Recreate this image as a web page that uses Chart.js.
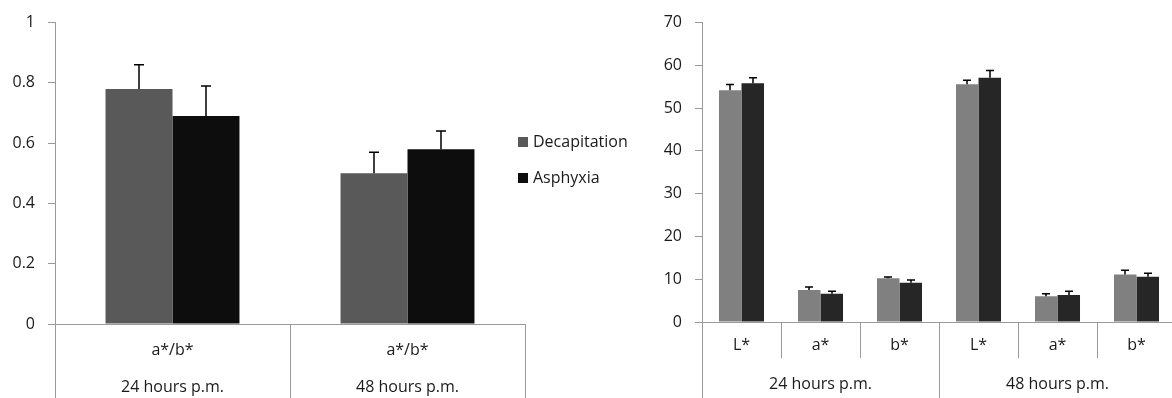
<!DOCTYPE html>
<html>
<head>
<meta charset="utf-8">
<script src="https://cdn.jsdelivr.net/npm/chart.js@4/dist/chart.umd.min.js"></script>
<style>
  html, body { margin: 0; padding: 0; background: #fff; overflow: hidden; }
  #wrap { position: relative; width: 1172px; height: 398px; overflow: hidden; }
  #left { position: absolute; left: 0; top: 0; }
  #right { position: absolute; left: 650px; top: 0; }
</style>
</head>
<body>
<div id="wrap">
  <canvas id="left" width="650" height="398"></canvas>
  <canvas id="right" width="526" height="398"></canvas>
</div>
<script>
// left chart: a*/b* ratio
const leftCategories = ["a*/b*", "a*/b*"];
const leftGroups = ["24 hours p.m.", "48 hours p.m."];
const leftDecap = [0.78, 0.50];
const leftDecapErr = [0.08, 0.07];
const leftAsph = [0.69, 0.58];
const leftAsphErr = [0.10, 0.06];

// right chart: L*, a*, b*
const rightCategories = ["L*", "a*", "b*", "L*", "a*", "b*"];
const rightGroups = ["24 hours p.m.", "48 hours p.m."];
const rightDecap = [54.2, 7.5, 10.2, 55.6, 6.0, 11.1];
const rightDecapErr = [1.3, 0.7, 0.3, 0.9, 0.6, 1.0];
const rightAsph = [55.8, 6.6, 9.2, 57.1, 6.3, 10.6];
const rightAsphErr = [1.3, 0.6, 0.6, 1.7, 0.9, 0.8];

const seriesNames = ["Decapitation", "Asphyxia"];

const FONT = "'Open Sans', sans-serif";
const FSIZE = 16;
const TEXT = "#1a1a1a";
const AXIS = "#9a9a9a";

// upward error bars with a cap
const errorBars = {
  id: "errorBars",
  afterDatasetsDraw(chart, args, opts) {
    const ctx = chart.ctx;
    const y = chart.scales.y;
    ctx.save();
    ctx.strokeStyle = "#000";
    ctx.lineWidth = 1.5;
    chart.data.datasets.forEach((ds, i) => {
      const meta = chart.getDatasetMeta(i);
      meta.data.forEach((bar, j) => {
        const top = y.getPixelForValue(ds.data[j] + ds.errors[j]);
        const x = Math.round(bar.x);
        ctx.beginPath();
        ctx.moveTo(x, bar.y);
        ctx.lineTo(x, top);
        ctx.moveTo(x - opts.cap, top);
        ctx.lineTo(x + opts.cap, top);
        ctx.stroke();
      });
    });
    ctx.restore();
  }
};

// two-level category axis drawn from the x scale
const groupAxis = {
  id: "groupAxis",
  afterDraw(chart, args, opts) {
    const ctx = chart.ctx;
    const x = chart.scales.x;
    const area = chart.chartArea;
    const labels = chart.data.labels;
    const n = labels.length;
    const per = n / opts.groups.length;
    const H = chart.height;
    const edge = (i) => {
      if (i === 0) return x.left;
      if (i === n) return x.right;
      return (x.getPixelForValue(i - 1) + x.getPixelForValue(i)) / 2;
    };
    ctx.save();
    ctx.strokeStyle = AXIS;
    ctx.lineWidth = 1;
    ctx.beginPath();
    ctx.moveTo(area.left, area.bottom + 0.5);
    ctx.lineTo(area.right, area.bottom + 0.5);
    for (let i = 0; i <= n; i++) {
      const px = Math.round(edge(i)) + 0.5;
      const long = i % per === 0;
      ctx.moveTo(px, area.bottom);
      ctx.lineTo(px, long ? H : area.bottom + opts.shortTick);
    }
    ctx.stroke();

    ctx.fillStyle = TEXT;
    ctx.font = opts.font;
    ctx.textAlign = "center";
    ctx.textBaseline = "middle";
    labels.forEach((l, i) => {
      ctx.fillText(l, x.getPixelForValue(i), opts.row1);
    });
    opts.groups.forEach((g, k) => {
      const cx = (edge(k * per) + edge((k + 1) * per)) / 2;
      ctx.fillText(g, cx, opts.row2);
    });

    if (opts.legend) {
      const lg = opts.legend;
      chart.data.datasets.forEach((ds, i) => {
        const yy = lg.y + i * lg.gap;
        ctx.fillStyle = ds.backgroundColor;
        ctx.fillRect(lg.x, yy - 5, 10, 10);
        ctx.fillStyle = TEXT;
        ctx.textAlign = "left";
        ctx.fillText(ds.label, lg.x + 15, yy);
      });
    }
    ctx.restore();
  }
};

function makeChart(el, cfg) {
  return new Chart(el, {
    type: "bar",
    data: {
      labels: cfg.labels,
      datasets: [
        { label: seriesNames[0], data: cfg.decap, errors: cfg.decapErr, backgroundColor: cfg.colors[0] },
        { label: seriesNames[1], data: cfg.asph, errors: cfg.asphErr, backgroundColor: cfg.colors[1] }
      ]
    },
    options: {
      responsive: false,
      animation: false,
      events: [],
      layout: { padding: { top: cfg.top, bottom: cfg.bottom, right: cfg.right, left: 0 } },
      datasets: { bar: { categoryPercentage: 0.57, barPercentage: 1 } },
      plugins: {
        legend: { display: false },
        tooltip: { enabled: false },
        errorBars: { cap: cfg.cap },
        groupAxis: {
          groups: cfg.groups,
          font: FSIZE + "px " + FONT,
          row1: cfg.row1,
          row2: cfg.row2,
          shortTick: cfg.shortTick,
          legend: cfg.legend
        }
      },
      scales: {
        x: { display: false },
        y: {
          min: 0,
          max: cfg.max,
          afterFit: (s) => { s.width = cfg.axisWidth; },
          ticks: {
            stepSize: cfg.step, color: TEXT, padding: 13,
            font: { family: FONT, size: FSIZE },
            callback: (v) => String(Math.round(v * 10) / 10)
          },
          grid: { drawOnChartArea: false, tickLength: 7, color: AXIS },
          border: { color: AXIS }
        }
      }
    },
    plugins: [errorBars, groupAxis]
  });
}

makeChart(document.getElementById("left"), {
  labels: leftCategories, groups: leftGroups,
  decap: leftDecap, decapErr: leftDecapErr, asph: leftAsph, asphErr: leftAsphErr,
  colors: ["#595959", "#0d0d0d"],
  max: 1, step: 0.2, axisWidth: 55,
  top: 14, bottom: 74, right: 125,
  cap: 5, row1: 350, row2: 387, shortTick: 74,
  legend: { x: 518, y: 142, gap: 36 }
});

makeChart(document.getElementById("right"), {
  labels: rightCategories, groups: rightGroups,
  decap: rightDecap, decapErr: rightDecapErr, asph: rightAsph, asphErr: rightAsphErr,
  colors: ["#808080", "#262626"],
  max: 70, step: 10, axisWidth: 52,
  top: 13, bottom: 76, right: 0,
  cap: 4, row1: 345, row2: 384, shortTick: 36,
  legend: null
});
</script>
</body>
</html>
